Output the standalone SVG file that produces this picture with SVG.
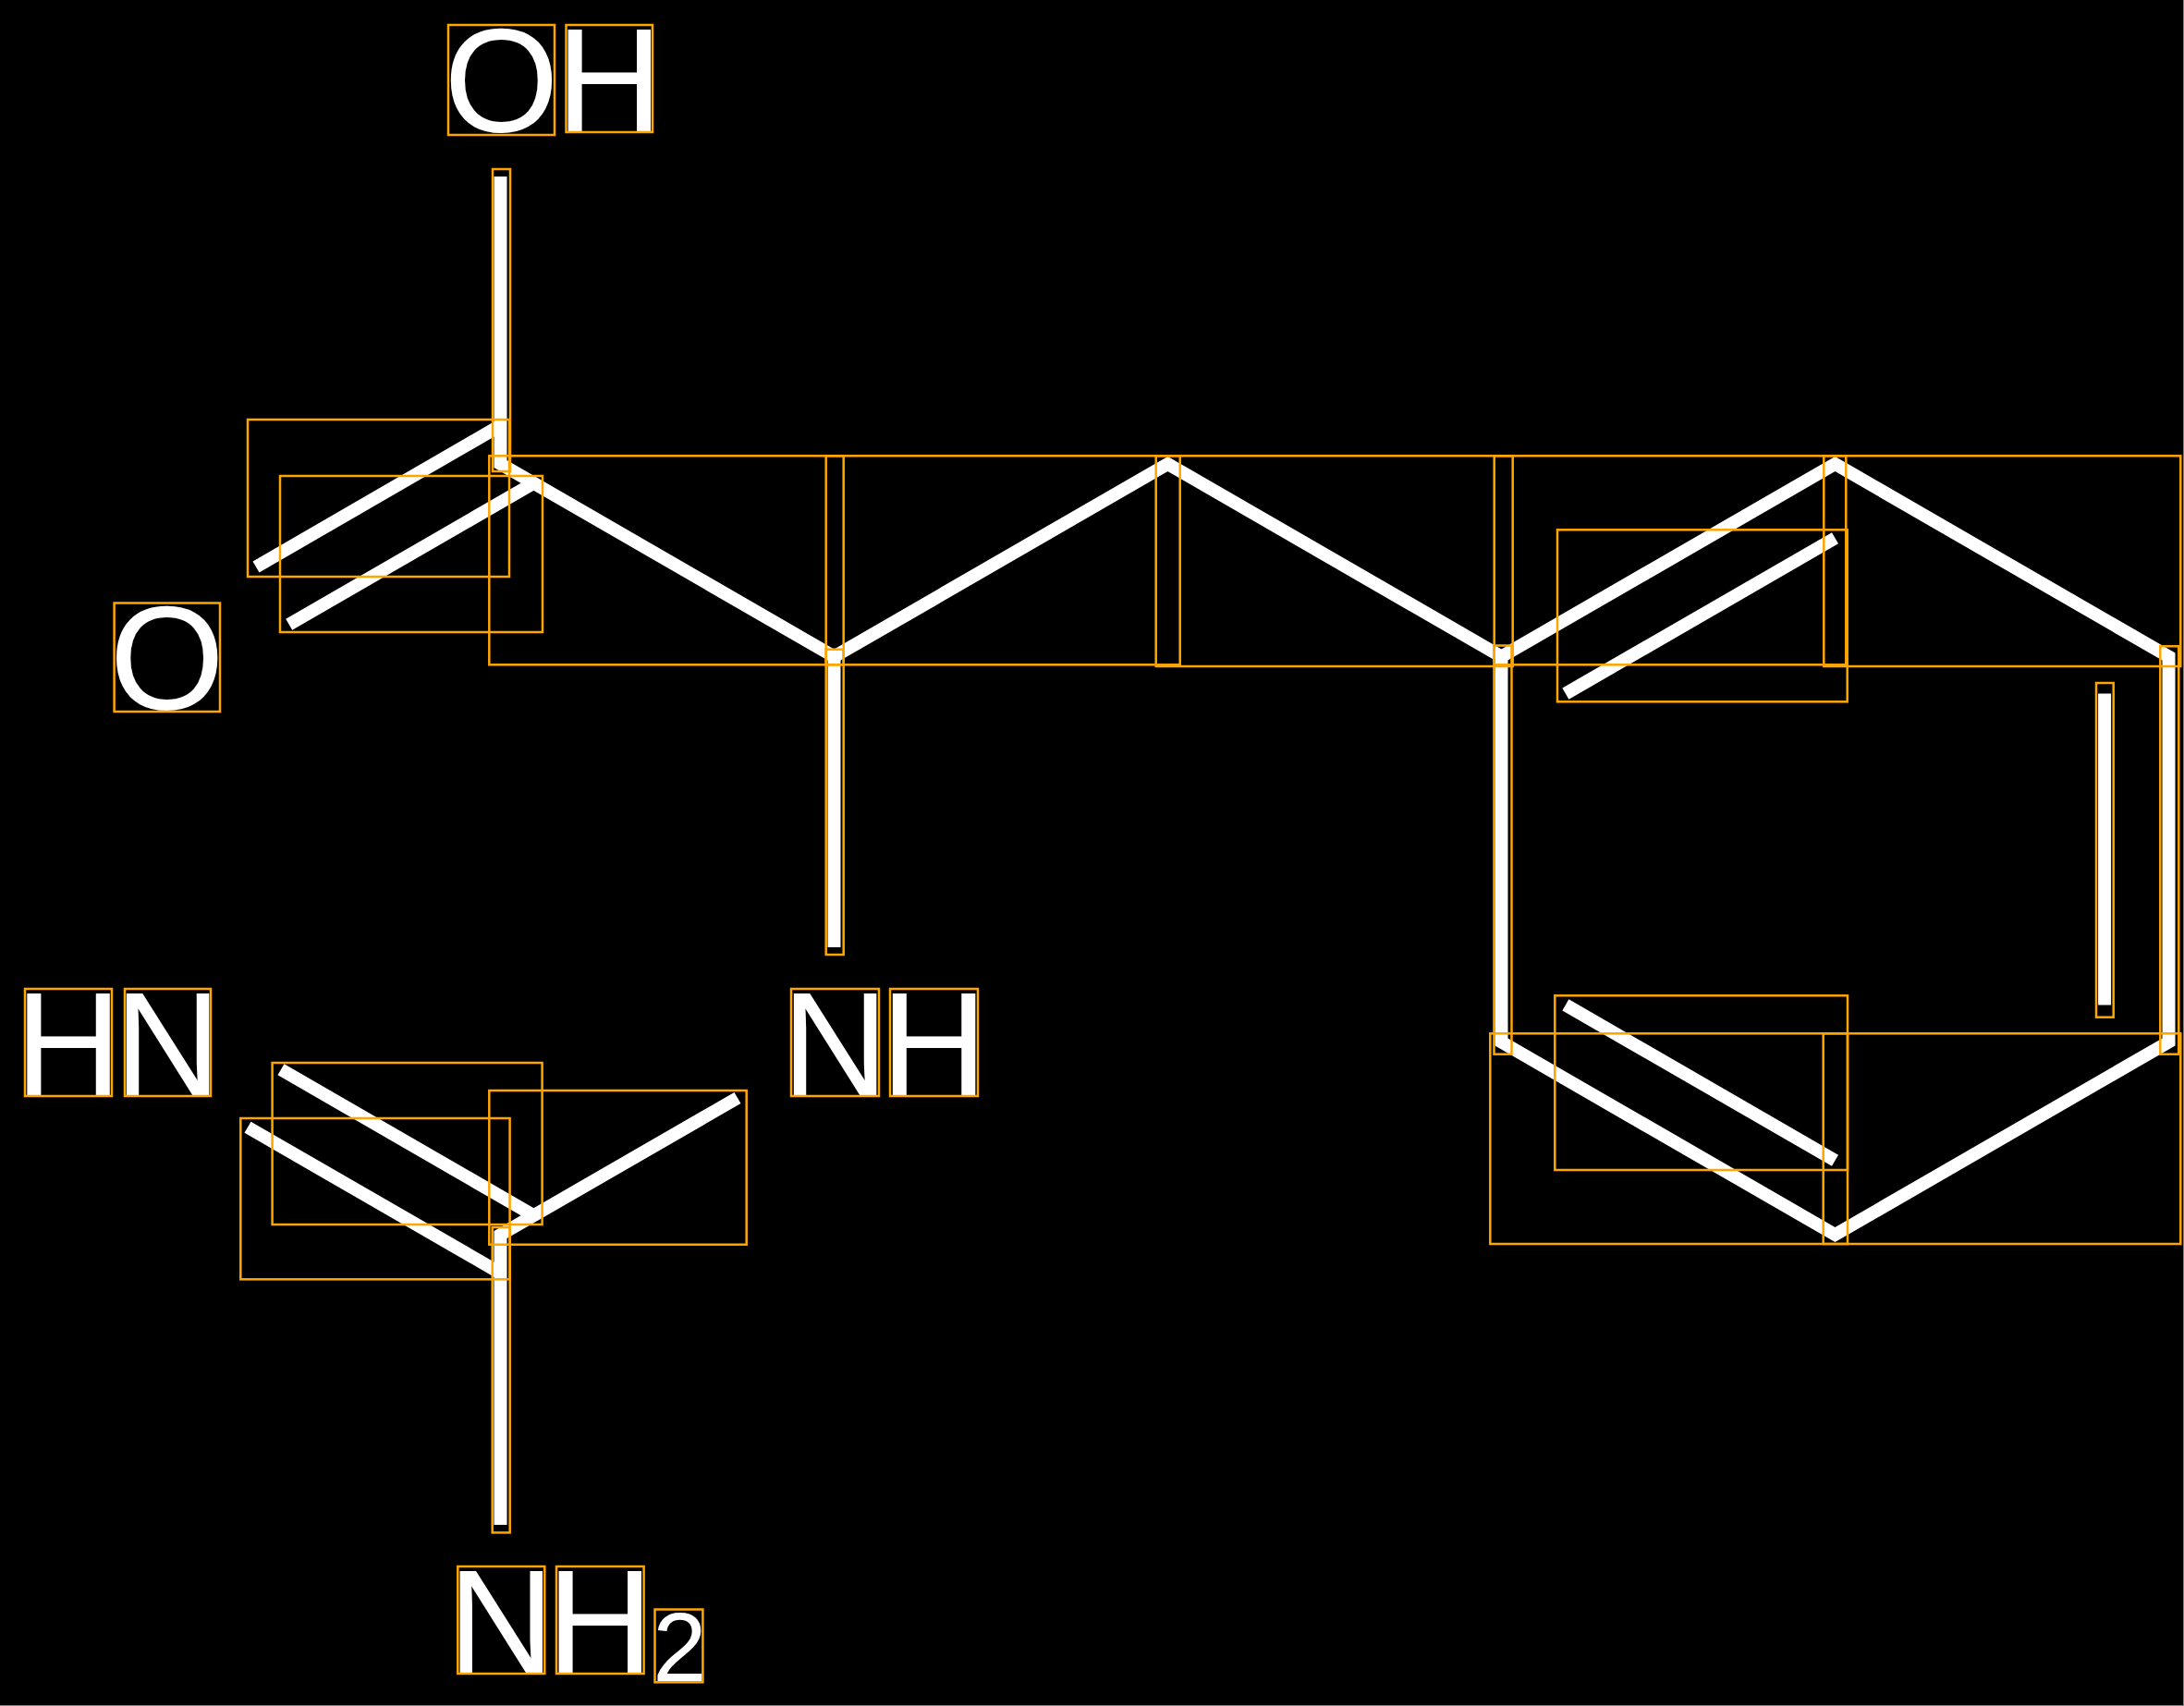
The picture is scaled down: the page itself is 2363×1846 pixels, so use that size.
<svg xmlns="http://www.w3.org/2000/svg" width="2363" height="1846" viewBox="0 0 2363 1846">
<style>
.bond{stroke:#ffffff;stroke-width:14;fill:none;stroke-linecap:butt;stroke-linejoin:miter}
.box{fill:none;stroke:#ffa500;stroke-width:2.5}
.lbl{font-family:"Liberation Sans",Arial,sans-serif;font-size:160px;fill:#ffffff;text-anchor:middle}
.sub{font-size:105px}
</style>
<rect x="0" y="0" width="2363" height="1846" fill="#000000"/>
<rect x="2362" y="0" width="1" height="1846" fill="#808080"/>
<rect x="0" y="1845" width="2363" height="1" fill="#808080"/>

<g id="connectors">
  <path class="bond" d="M541.5,191 L541.5,502 L902.5,710.5 L1263.5,502 L1624.5,710.5"/>
  <path class="bond" d="M541.5,460.4 L277,613.5"/>
  <path class="bond" d="M577.5,522.8 L312.7,675.7"/>
  <path class="bond" d="M902.5,710.5 L902.5,1025"/>
  <path class="bond" d="M1624.5,710.5 L1985.5,502 L2346.5,710.5 L2346.5,1127.5 L1985.5,1336 L1624.5,1127.5 Z"/>
  <path class="bond" d="M1693.9,750.6 L1985.5,582.3"/>
  <path class="bond" d="M2277.1,750.6 L2277.1,1087.4"/>
  <path class="bond" d="M1985.5,1255.7 L1693.9,1087.4"/>
  <path class="bond" d="M798,1188 L541.5,1336 L541.5,1650"/>
  <path class="bond" d="M577.5,1315.2 L304,1157.3"/>
  <path class="bond" d="M541.5,1377.6 L268,1219.7"/>
  <g id="bond-bboxes">
    <rect class="box" x="533" y="183" width="19" height="327"/>
    <rect class="box" x="268" y="454" width="283" height="170"/>
    <rect class="box" x="303" y="515" width="284" height="169"/>
    <rect class="box" x="529.3" y="493.3" width="383.4" height="226"/>
    <rect class="box" x="893.7" y="493.3" width="383" height="226"/>
    <rect class="box" x="893.7" y="702.7" width="19" height="330.3"/>
    <rect class="box" x="1250.7" y="493.3" width="386" height="227.7"/>
    <rect class="box" x="1616.7" y="493.3" width="380.6" height="226"/>
    <rect class="box" x="1973.3" y="493.3" width="386" height="227.7"/>
    <rect class="box" x="1685" y="573.3" width="313.7" height="186"/>
    <rect class="box" x="1616.5" y="698.5" width="19" height="442.2"/>
    <rect class="box" x="2337.3" y="699.3" width="20" height="441.4"/>
    <rect class="box" x="2268" y="739" width="18.7" height="361.7"/>
    <rect class="box" x="1972.7" y="1118.3" width="386.6" height="227.7"/>
    <rect class="box" x="1612.3" y="1118.3" width="386.7" height="227.7"/>
    <rect class="box" x="1682.3" y="1077.3" width="316.7" height="188.7"/>
    <rect class="box" x="529.3" y="1180" width="278.4" height="166.7"/>
    <rect class="box" x="294.6" y="1150" width="292" height="175"/>
    <rect class="box" x="260.3" y="1210" width="291.3" height="174.3"/>
    <rect class="box" x="532.7" y="1328" width="19" height="330.4"/>
  </g>
</g>

<g id="atom-OH">
  <text class="lbl" x="542.5" y="142.3">O</text>
  <text class="lbl" x="659.3" y="142.3">H</text>
  <rect class="box" x="485" y="27" width="115" height="119"/>
  <rect class="box" x="612.5" y="27" width="93.5" height="116"/>
</g>

<g id="atom-O">
  <text class="lbl" x="180.8" y="767">O</text>
  <rect class="box" x="123.6" y="652.5" width="114.4" height="117.5"/>
</g>

<g id="atom-NH">
  <text class="lbl" x="903.4" y="1185.3">N</text>
  <text class="lbl" x="1010.5" y="1185.3">H</text>
  <rect class="box" x="856" y="1070" width="95" height="116"/>
  <rect class="box" x="963" y="1070" width="95" height="116"/>
</g>

<g id="atom-HN">
  <text class="lbl" x="74" y="1185.3">H</text>
  <text class="lbl" x="181.5" y="1185.3">N</text>
  <rect class="box" x="27" y="1070" width="94" height="116"/>
  <rect class="box" x="135" y="1070" width="93" height="116"/>
</g>

<g id="atom-NH2">
  <text class="lbl" x="542.3" y="1810.3">N</text>
  <text class="lbl" x="649.3" y="1810.3">H</text>
  <text class="lbl sub" x="735.5" y="1819">2</text>
  <rect class="box" x="495.3" y="1695" width="94" height="116"/>
  <rect class="box" x="602" y="1695" width="94.6" height="116"/>
  <rect class="box" x="708.5" y="1741.5" width="51.9" height="78.8"/>
</g>
</svg>
